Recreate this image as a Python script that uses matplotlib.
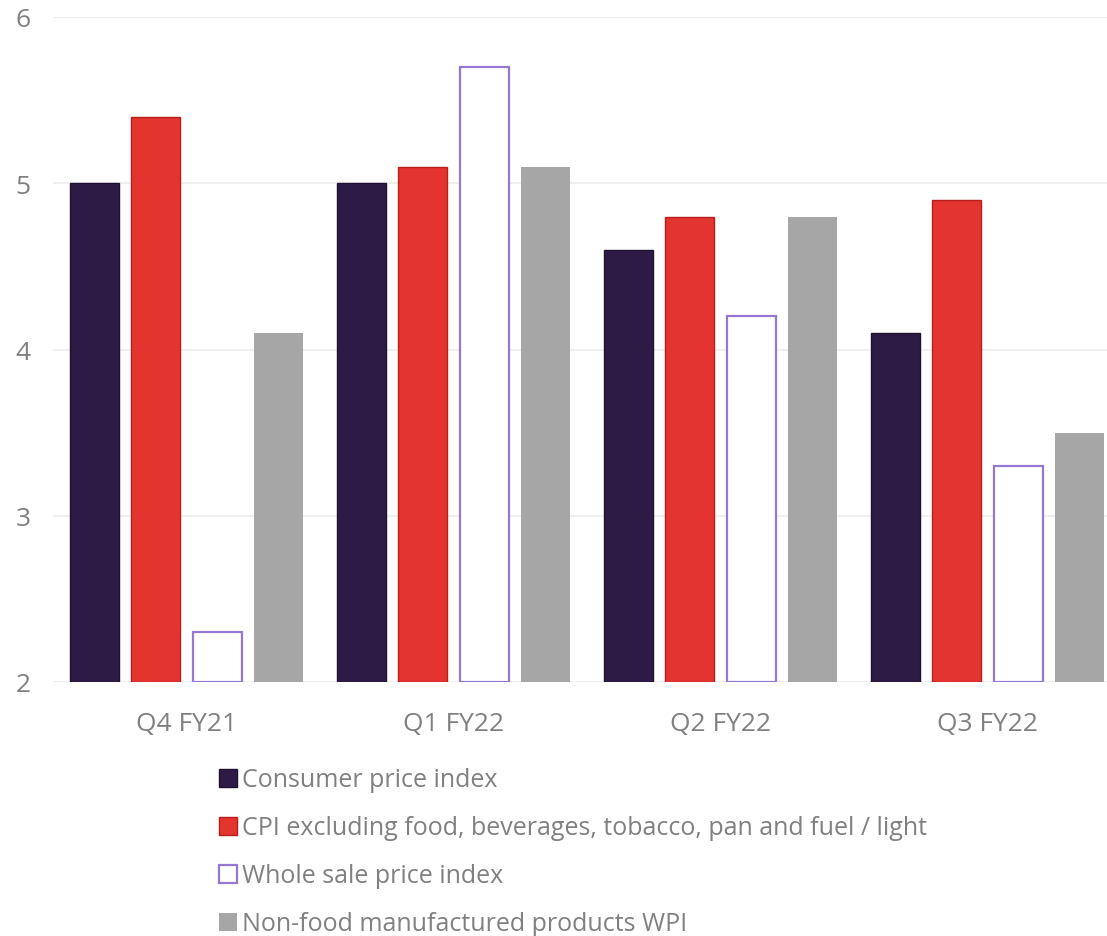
import matplotlib

matplotlib.use("Agg")
import matplotlib.pyplot as plt
import numpy as np
from matplotlib.patches import Patch

WIDTH = 1107
HEIGHT = 937
DPI = 100

plt.rcParams["font.family"] = ["Open Sans", "DejaVu Sans"]

QUARTERS = ["Q4 FY21", "Q1 FY22", "Q2 FY22", "Q3 FY22"]
SERIES = [
    "Consumer price index",
    "CPI excluding food, beverages, tobacco, pan and fuel / light",
    "Whole sale price index",
    "Non-food manufactured products WPI",
]
CPI = [5.0, 5.0, 4.6, 4.1]
CPI_CORE = [5.4, 5.1, 4.8, 4.9]
WPI = [2.3, 5.7, 4.2, 3.3]
WPI_NONFOOD = [4.1, 5.1, 4.8, 3.5]

TEXT = "#808080"
GRID = "#ececec"
STYLES = [
    dict(facecolor="#2d1b45", edgecolor="#1f1230", linewidth=1.0),
    dict(facecolor="#e3342f", edgecolor="#b81e1a", linewidth=1.0),
    dict(facecolor="white", edgecolor="#9478d2", linewidth=1.6),
    dict(facecolor="#a6a6a6", edgecolor="#a6a6a6", linewidth=0.0),
]

fig = plt.figure(figsize=(WIDTH / DPI, HEIGHT / DPI), dpi=DPI, facecolor="white")
left = 53 / WIDTH
bottom = (HEIGHT - 683) / HEIGHT
top = 18 / HEIGHT
ax = fig.add_axes([left, bottom, 1 - left, 1 - bottom - top])

x = np.arange(len(QUARTERS))
width = 0.1835
step = 0.2285
for i, (vals, style) in enumerate(zip([CPI, CPI_CORE, WPI, WPI_NONFOOD], STYLES)):
    offs = (i - 1.5) * step
    heights = np.array(vals) - 2
    ax.bar(x + offs, heights, width, bottom=2, zorder=3, **style)

ax.set_ylim(2, 6)
ax.set_xlim(-0.5, 3.5 - 14 / 267)
ax.set_yticks([2, 3, 4, 5, 6])
ax.set_xticks(x)
ax.set_xticklabels(QUARTERS)
ax.grid(axis="y", color=GRID, linewidth=1.2, zorder=0)
for s in ax.spines.values():
    s.set_visible(False)
ax.tick_params(axis="both", length=0, colors=TEXT, labelsize=19)
ax.tick_params(axis="x", pad=21)
ax.tick_params(axis="y", pad=16)

handles = [Patch(**s) for s in STYLES]
leg = fig.legend(
    handles,
    SERIES,
    loc="upper left",
    bbox_to_anchor=(196 / WIDTH, 1 - 746 / HEIGHT),
    frameon=False,
    fontsize=18,
    handlelength=0.72,
    handleheight=0.72,
    handletextpad=0.2,
    labelspacing=0.92,
    labelcolor=TEXT,
)

fig.savefig("out.png", dpi=DPI, facecolor="white")
